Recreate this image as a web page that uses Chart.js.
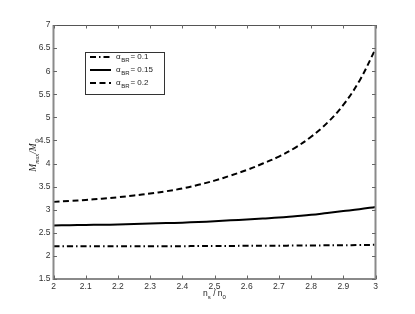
<!DOCTYPE html>
<html>
<head>
<meta charset="utf-8">
<script src="https://cdn.jsdelivr.net/npm/chart.js@4"></script>
<style>
html,body{margin:0;padding:0;background:#fff;}
#wrap{width:415px;height:314px;position:relative;}
</style>
</head>
<body>
<div id="wrap"><canvas id="c" width="415" height="314"></canvas></div>
<script>
// ---- data ----
const xValues = [2.0, 2.05, 2.1, 2.15, 2.2, 2.25, 2.3, 2.35, 2.4, 2.45, 2.5, 2.55, 2.6, 2.65, 2.7, 2.75, 2.8, 2.85, 2.9, 2.95, 3.0];
const alpha01 = [2.21, 2.21, 2.21, 2.21, 2.21, 2.21, 2.21, 2.21, 2.21, 2.215, 2.215, 2.215, 2.22, 2.22, 2.22, 2.225, 2.225, 2.23, 2.23, 2.235, 2.24];
const alpha015 = [2.66, 2.665, 2.67, 2.675, 2.68, 2.69, 2.70, 2.71, 2.72, 2.735, 2.75, 2.77, 2.79, 2.81, 2.83, 2.86, 2.89, 2.93, 2.97, 3.01, 3.06];
const alpha02 = [3.17, 3.19, 3.21, 3.24, 3.27, 3.31, 3.35, 3.40, 3.46, 3.54, 3.63, 3.74, 3.86, 4.00, 4.15, 4.34, 4.58, 4.88, 5.27, 5.79, 6.48];
const seriesLabels = ['0.1', '0.15', '0.2'];
const xTicks = [2, 2.1, 2.2, 2.3, 2.4, 2.5, 2.6, 2.7, 2.8, 2.9, 3];
const yTicks = [1.5, 2, 2.5, 3, 3.5, 4, 4.5, 5, 5.5, 6, 6.5, 7];

const pts = ys => xValues.map((x, i) => ({x: x, y: ys[i]}));
const FONT = '"Liberation Sans", Arial, Helvetica, sans-serif';

const dashes = [[6, 3, 1.5, 3], [], [6, 3.5]];

const decor = {
  id: 'decor',
  afterDatasetsDraw(chart) {
    const ctx = chart.ctx;
    const a = chart.chartArea;
    const xs = chart.scales.x, ys = chart.scales.y;
    ctx.save();
    // box
    ctx.lineCap = 'butt';
    ctx.strokeStyle = '#8a8a8a';
    ctx.lineWidth = 2;
    ctx.beginPath();
    ctx.moveTo(a.left, a.top); ctx.lineTo(a.left, a.bottom); ctx.lineTo(a.right, a.bottom); ctx.lineTo(a.right, a.top);
    ctx.stroke();
    ctx.strokeStyle = '#555';
    ctx.lineWidth = 1;
    ctx.beginPath();
    ctx.moveTo(a.left, a.top + 0.5); ctx.lineTo(a.right, a.top + 0.5);
    ctx.stroke();
    // inward ticks
    ctx.strokeStyle = '#666';
    ctx.lineWidth = 1;
    const tl = 3.5;
    ctx.beginPath();
    xTicks.forEach(v => {
      const px = Math.round(xs.getPixelForValue(v)) + 0.5;
      ctx.moveTo(px, a.bottom); ctx.lineTo(px, a.bottom - tl);
      ctx.moveTo(px, a.top); ctx.lineTo(px, a.top + tl);
    });
    yTicks.forEach(v => {
      const py = Math.round(ys.getPixelForValue(v)) + 0.5;
      ctx.moveTo(a.left, py); ctx.lineTo(a.left + tl, py);
      ctx.moveTo(a.right, py); ctx.lineTo(a.right - tl, py);
    });
    ctx.stroke();

    // legend
    const lx = 85, ly = 52, lw = 79, lh = 42;
    ctx.fillStyle = '#fff';
    ctx.fillRect(lx, ly, lw, lh);
    ctx.strokeStyle = '#333';
    ctx.lineWidth = 1;
    ctx.strokeRect(lx + 0.5, ly + 0.5, lw, lh);
    const rows = [57, 70, 83];
    chart.data.datasets.forEach((ds, i) => {
      const y = rows[i];
      ctx.strokeStyle = '#000';
      ctx.lineWidth = 2;
      ctx.setLineDash(dashes[i]);
      ctx.beginPath(); ctx.moveTo(90, y); ctx.lineTo(111, y); ctx.stroke();
      ctx.setLineDash([]);
      ctx.fillStyle = '#222';
      ctx.textBaseline = 'alphabetic';
      ctx.textAlign = 'left';
      let x = 116;
      ctx.font = '8px ' + FONT;
      ctx.fillText('α', x, y + 2);
      x += ctx.measureText('α').width + 0.5;
      ctx.font = '6px ' + FONT;
      ctx.fillText('BR', x, y + 4.5);
      x += ctx.measureText('BR').width + 1;
      ctx.font = '8px ' + FONT;
      ctx.fillText('= ' + seriesLabels[i], x, y + 2);
    });

    // x title
    ctx.fillStyle = '#222';
    ctx.textAlign = 'left';
    ctx.textBaseline = 'alphabetic';
    {
      const parts = [['n', 8.5, 0], ['s', 6, 2.5], [' / n', 8.5, 0], ['0', 6, 2.5]];
      let w = 0;
      parts.forEach(p => { ctx.font = p[1] + 'px ' + FONT; w += ctx.measureText(p[0]).width; });
      let x = (a.left + a.right) / 2 - w / 2;
      const base = 296;
      parts.forEach(p => { ctx.font = p[1] + 'px ' + FONT; ctx.fillText(p[0], x, base + p[2]); x += ctx.measureText(p[0]).width; });
    }
    // y title
    ctx.save();
    ctx.translate(36, (a.top + a.bottom) / 2 + 3);
    ctx.rotate(-Math.PI / 2);
    {
      const parts = [['M', 9.5, 0], ['max', 6, 2.5], ['/', 9.5, 0], ['M', 9.5, 0], ['⊙', 6, 2.5]];
      let w = 0;
      parts.forEach(p => { ctx.font = 'italic ' + p[1] + 'px "Liberation Serif", "DejaVu Serif", serif'; w += ctx.measureText(p[0]).width; });
      let x = -w / 2;
      parts.forEach(p => { ctx.font = 'italic ' + p[1] + 'px "Liberation Serif", "DejaVu Serif", serif'; ctx.fillText(p[0], x, p[2]); x += ctx.measureText(p[0]).width; });
    }
    ctx.restore();
    ctx.restore();
  }
};

const fmt = v => String(Math.round(v * 10) / 10);

new Chart(document.getElementById('c'), {
  type: 'line',
  data: {
    datasets: [
      {label: 'α_BR = 0.1', data: pts(alpha01), borderDash: dashes[0]},
      {label: 'α_BR = 0.15', data: pts(alpha015), borderDash: dashes[1]},
      {label: 'α_BR = 0.2', data: pts(alpha02), borderDash: dashes[2]}
    ].map(d => Object.assign(d, {borderColor: '#000', borderWidth: 2, pointRadius: 0, tension: 0.4, fill: false}))
  },
  options: {
    responsive: false,
    animation: false,
    devicePixelRatio: 1,
    layout: {padding: {left: 0, top: 25, right: 39.5, bottom: 0}},
    plugins: {legend: {display: false}, tooltip: {enabled: false}},
    scales: {
      x: {
        type: 'linear', min: 2, max: 3,
        afterBuildTicks: s => { s.ticks = xTicks.map(v => ({value: v})); },
        afterFit: s => { s.height = 35; },
        border: {display: false},
        grid: {display: false, drawTicks: false, tickLength: 0},
        ticks: {font: {size: 8.5, family: FONT}, color: '#333', padding: 3, maxRotation: 0, autoSkip: false, callback: fmt}
      },
      y: {
        type: 'linear', min: 1.5, max: 7,
        afterBuildTicks: s => { s.ticks = yTicks.map(v => ({value: v})); },
        afterFit: s => { s.width = 53.5; },
        border: {display: false},
        grid: {display: false, drawTicks: false, tickLength: 0},
        ticks: {font: {size: 8.5, family: FONT}, color: '#333', padding: 3, autoSkip: false, callback: fmt}
      }
    }
  },
  plugins: [decor]
});
</script>
</body>
</html>
